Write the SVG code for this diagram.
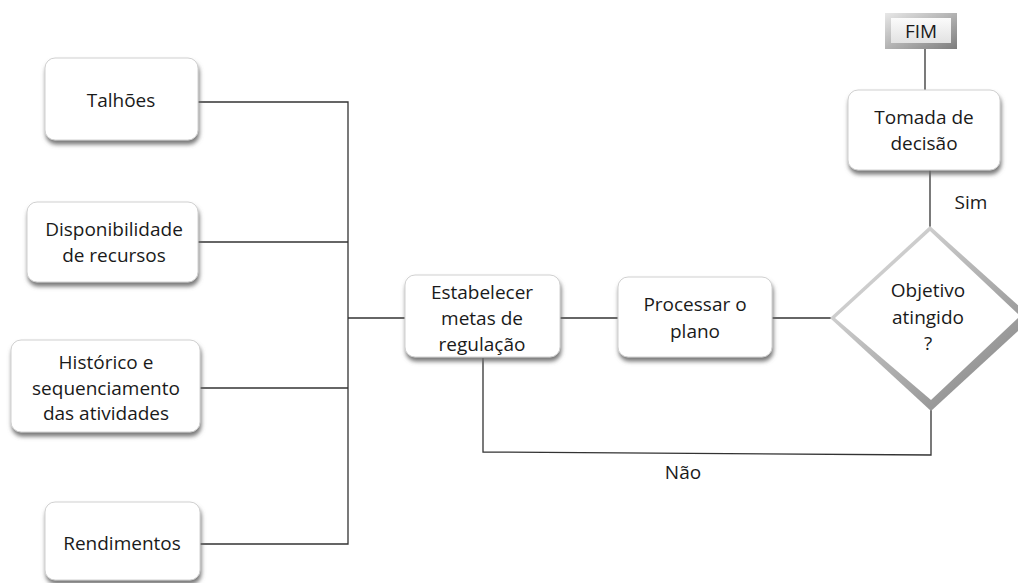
<svg xmlns="http://www.w3.org/2000/svg" width="1018" height="583" viewBox="0 0 1018 583">
<style>
  .box { fill: #ffffff; stroke: #d0d0d0; stroke-width: 1; filter: url(#sh); }
  .t { font-family: "Open Sans", "Liberation Sans", sans-serif; font-size: 19px; fill: #1a1a1a; text-anchor: middle; dominant-baseline: central; }
  .ln { stroke: #333; stroke-width: 1.3; fill: none; }
</style>
<defs>
  <filter id="sh" x="-10%" y="-10%" width="125%" height="140%">
    <feGaussianBlur in="SourceAlpha" stdDeviation="2.2"/>
    <feOffset dx="1" dy="4" result="b"/>
    <feFlood flood-color="#6a6a6a" flood-opacity="0.9"/>
    <feComposite in2="b" operator="in"/>
    <feMerge><feMergeNode/><feMergeNode in="SourceGraphic"/></feMerge>
  </filter>
  <linearGradient id="bev" x1="0" y1="0" x2="1" y2="1">
    <stop offset="0" stop-color="#e8e8e8"/>
    <stop offset="1" stop-color="#7d7d7d"/>
  </linearGradient>
  <linearGradient id="face" x1="0" y1="0" x2="0" y2="1">
    <stop offset="0" stop-color="#fbfbfb"/>
    <stop offset="1" stop-color="#e2e2e2"/>
  </linearGradient>
</defs>

<g id="connectors">
  <polyline class="ln" points="198,102 348,102 348,544 200,544"/>
  <line class="ln" x1="198" y1="242" x2="348" y2="242"/>
  <line class="ln" x1="200" y1="388" x2="348" y2="388"/>
  <line class="ln" x1="348" y1="318" x2="405" y2="318"/>
  <line class="ln" x1="560" y1="318" x2="618" y2="318"/>
  <line class="ln" x1="772" y1="318" x2="832" y2="318"/>
  <line class="ln" x1="925" y1="48" x2="925" y2="90"/>
  <line class="ln" x1="930" y1="170" x2="930" y2="228"/>
  <polyline class="ln" points="931,408 931,455 483,452 483,358"/>
  <text class="t" x="683" y="472">Não</text>
  <text class="t" x="971" y="202">Sim</text>
</g>

<g id="talhoes">
  <rect class="box" x="45" y="58" width="153" height="82" rx="10"/>
  <text class="t" x="121" y="100">Talhões</text>
</g>
<g id="disponibilidade">
  <rect class="box" x="27" y="202" width="171" height="80" rx="10"/>
  <text class="t" x="114" y="229">Disponibilidade</text>
  <text class="t" x="114" y="255">de recursos</text>
</g>
<g id="historico">
  <rect class="box" x="11" y="340" width="189" height="92" rx="10"/>
  <text class="t" x="106" y="362">Histórico e</text>
  <text class="t" x="106" y="388">sequenciamento</text>
  <text class="t" x="106" y="413">das atividades</text>
</g>
<g id="rendimentos">
  <rect class="box" x="45" y="502" width="155" height="78" rx="10"/>
  <text class="t" x="122" y="543">Rendimentos</text>
</g>
<g id="estabelecer">
  <rect class="box" x="405" y="275" width="155" height="82" rx="10"/>
  <text class="t" x="482" y="292">Estabelecer</text>
  <text class="t" x="482" y="318">metas de</text>
  <text class="t" x="482" y="344">regulação</text>
</g>
<g id="processar">
  <rect class="box" x="618" y="277" width="154" height="80" rx="10"/>
  <text class="t" x="695" y="304">Processar o</text>
  <text class="t" x="695" y="331">plano</text>
</g>
<g id="objetivo">
  <polygon points="930,226 1032,318 931,411 830,318" fill="url(#bev)"/>
  <polygon points="930,231 1020,316 931,400 835,318" fill="#ffffff"/>
  <text class="t" x="928" y="290">Objetivo</text>
  <text class="t" x="928" y="317">atingido</text>
  <text class="t" x="928" y="343">?</text>
</g>
<g id="tomada">
  <rect class="box" x="848" y="90" width="152" height="80" rx="10"/>
  <text class="t" x="924" y="117">Tomada de</text>
  <text class="t" x="924" y="143">decisão</text>
</g>
<g id="fim">
  <rect x="885" y="13" width="72" height="36" fill="url(#bev)"/>
  <rect x="891" y="18" width="60" height="25" fill="url(#face)"/>
  <text class="t" x="921" y="31">FIM</text>
</g>
</svg>
